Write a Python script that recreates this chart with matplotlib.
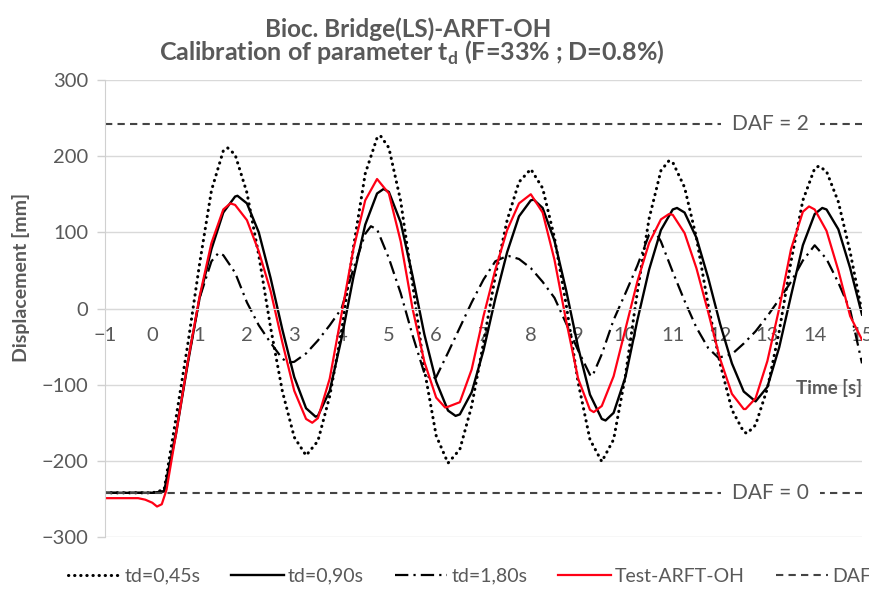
import numpy as np
import matplotlib
matplotlib.use('Agg')
import matplotlib.pyplot as plt

plt.rcParams['font.family'] = ['Lato', 'DejaVu Sans']
plt.rcParams['mathtext.fontset'] = 'custom'
plt.rcParams['mathtext.rm'] = 'Lato'
plt.rcParams['mathtext.bf'] = 'Lato:bold'

# time grid [s] used by the three td curves
time = np.round(np.arange(-1, 15.001, 0.25), 2)

td_045 = [-242, -242, -242, -242, -242, -238, -144, -47, 59, 155, 207, 202, 152,
          70, -25, -109, -169, -193, -174, -115, -30, 80, 177, 224, 211, 141, 33,
          -80, -167, -203, -185, -128, -45, 43, 116, 166, 183, 158, 93, 4, -97,
          -172, -201, -172, -88, 21, 118, 181, 192, 159, 93, 4, -72, -133, -162,
          -153, -105, -30, 62, 142, 184, 180, 140, 74, -5]
# peaks / troughs read between grid points
td_045_ext_t = [1.59, 4.82, 10.92, 12.57, 14.09]
td_045_ext_v = [211, 227, 194, -164, 187]

td_090 = [-242, -242, -242, -242, -242, -240, -165, -72, 14, 78, 126, 147, 138,
          100, 40, -28, -90, -131, -141, -108, -39, 41, 110, 151, 153, 113, 43,
          -34, -96, -134, -139, -110, -55, 13, 74, 121, 142, 132, 89, 23, -51,
          -113, -145, -137, -90, -16, 51, 103, 130, 126, 93, 40, -20, -72, -109,
          -122, -103, -51, 17, 83, 124, 130, 104, 53, -8]
td_090_ext_t = [1.80, 3.45, 4.89, 6.41, 8.06, 9.58, 11.09, 14.16]
td_090_ext_v = [148, -142, 157, -141, 143, -147, 132, 132]

td_180 = [-242, -242, -242, -242, -242, -240, -162, -70, 14, 62, 70, 47, 8,
          -22, -45, -66, -70, -59, -42, -22, 0, 52, 98, 104, 66, 20, -35,
          -85, -90, -58, -25, 8, 38, 62, 69, 65, 53, 35, 14, -20, -55,
          -87, -60, -15, 20, 56, 97, 88, 48, 10, -25, -52, -64, -60, -46,
          -30, -10, 12, 35, 63, 83, 65, 34, -2, -72]
td_180_ext_t = [1.40, 2.88, 4.62, 5.90, 7.53, 9.30, 10.62, 11.97]
td_180_ext_v = [73, -71, 108, -93, 69, -89, 102, -65]

# test record has a few extra samples around the start dip
test_time = [-1, -0.75, -0.5, -0.3, -0.15, 0, 0.1, 0.2, 0.3, 0.5, 0.75] + list(time[time >= 1.0])
test = [-249, -249, -249, -249, -251, -255, -260, -257, -238, -165, -70,
        16, 86, 130, 136, 116, 75, 23, -45, -108, -145, -144, -92, -7, 78,
        142, 170, 151, 88, 0, -70, -117, -129, -123, -80, -10, 51, 103, 138,
        150, 126, 64, -17, -92, -133, -128, -89, -27, 35, 86, 117, 123, 99,
        53, -5, -66, -112, -132, -118, -69, 0, 78, 127, 130, 102, 50, -10, -41]
test_ext_t = [1.65, 3.38, 6.19, 9.33, 10.92, 12.54, 13.88]
test_ext_v = [138, -150, -130, -136, 124, -132, 134]

daf_levels = [242, -242]
daf_labels = ['DAF = 2', 'DAF = 0']


def merge(t, v, et, ev):
    tt = np.concatenate([np.asarray(t, float), et])
    vv = np.concatenate([np.asarray(v, float), ev])
    o = np.argsort(tt, kind='stable')
    return tt[o], vv[o]


grey = '#595959'

fig = plt.figure(figsize=(8.7, 5.94), dpi=100)
ax = fig.add_axes([105 / 870, 1 - 537 / 594, 757 / 870, 457 / 594])

x, y = merge(time, td_045, td_045_ext_t, td_045_ext_v)
ax.plot(x, y, color='black', lw=2.2, linestyle=(0, (0.1, 1.9)),
        dash_capstyle='round', label='td=0,45s')
x, y = merge(time, td_090, td_090_ext_t, td_090_ext_v)
ax.plot(x, y, color='black', lw=1.7, label='td=0,90s')
x, y = merge(time, td_180, td_180_ext_t, td_180_ext_v)
ax.plot(x, y, color='black', lw=1.6, linestyle=(0, (6, 2.3, 1, 2.3)),
        label='td=1,80s')
x, y = merge(test_time, test, test_ext_t, test_ext_v)
ax.plot(x, y, color='#ff0015', lw=1.6, label='Test-ARFT-OH')

for i, (lev, lab) in enumerate(zip(daf_levels, daf_labels)):
    ax.axhline(lev, color='#444444', lw=1.5, linestyle=(0, (3.5, 2.5)),
               label='DAF' if i == 0 else '_nolegend_')
    ax.text(13.07, lev, lab, ha='center', va='center', fontsize=15, color=grey,
            bbox=dict(facecolor='white', edgecolor='none', pad=8), zorder=5)

ax.set_xlim(-1, 15)
ax.set_ylim(-300, 300)
ax.set_xticks(range(-1, 16))
ax.set_yticks(range(-300, 301, 100))
ax.grid(axis='y', color='#d9d9d9', lw=1)
ax.set_axisbelow(True)

for s in ['top', 'right']:
    ax.spines[s].set_visible(False)
ax.spines['left'].set_color('#d0d0d0')
ax.spines['bottom'].set_color('#d9d9d9')
ax.spines['bottom'].set_position(('data', 0))

ax.tick_params(axis='x', length=0, pad=13, labelsize=14.5, labelcolor=grey)
ax.tick_params(axis='y', length=6, width=1, color='#d0d0d0', pad=6,
               labelsize=14.5, labelcolor=grey)

ax.text(15, -104, 'Time [s]', ha='right', va='center', fontsize=13.5,
        fontweight='bold', color=grey)
fig.text(0.024, 1 - 277 / 594, 'Displacement [mm]', rotation=90, ha='center',
         va='center', fontsize=14, fontweight='bold', color=grey)

fig.text(0.469, 1 - 29 / 594, 'Bioc. Bridge(LS)-ARFT-OH', ha='center', va='center',
         fontsize=17.5, fontweight='bold', color=grey)
fig.text(0.474, 1 - 53 / 594, r'Calibration of parameter t$_\mathbf{d}$ (F=33% ; D=0.8%)',
         ha='center', va='center', fontsize=18, fontweight='bold', color=grey)

fig.legend(loc='center left', bbox_to_anchor=(0.078, 1 - 576 / 594), ncol=5,
           frameon=False, fontsize=14, labelcolor=grey, handlelength=2.7,
           handletextpad=0.2, columnspacing=1.6, borderaxespad=0, borderpad=0)

fig.savefig('out.png', dpi=100)
